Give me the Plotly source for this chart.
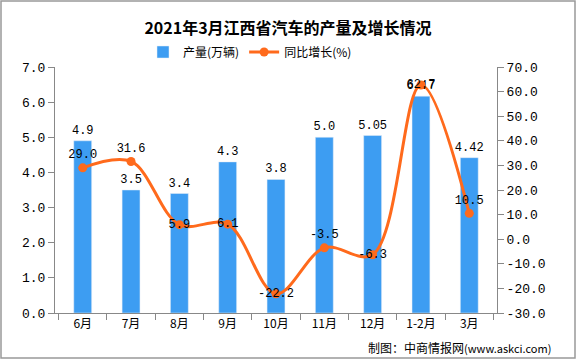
import plotly.graph_objects as go

categories = ["6月", "7月", "8月", "9月", "10月", "11月", "12月", "1-2月", "3月"]
output_vals = [4.9, 3.5, 3.4, 4.3, 3.8, 5.0, 5.05, 6.17, 4.42]
output_labels = ["4.9", "3.5", "3.4", "4.3", "3.8", "5.0", "5.05", "6.17", "4.42"]
growth_vals = [29.0, 31.6, 5.9, 6.1, -22.2, -3.5, -6.3, 62.7, 10.5]
growth_labels = ["29.0", "31.6", "5.9", "6.1", "-22.2", "-3.5", "-6.3", "62.7", "10.5"]
growth_label_pos = ["top center", "top center", "middle center", "middle center",
                    "middle center", "top center", "middle center", "middle center", "top center"]
left_ticks = [0, 1, 2, 3, 4, 5, 6, 7]
right_ticks = [-30, -20, -10, 0, 10, 20, 30, 40, 50, 60, 70]

mono = "Liberation Mono, monospace"
cjk = "Noto Sans CJK SC"

W, H = 576, 359
ML, MR, MT, MB = 55, 79, 67, 46
PW, PH = W - ML - MR, H - MT - MB

fig = go.Figure()
fig.add_trace(go.Bar(
    x=categories, y=output_vals, name="产量(万辆)",
    marker=dict(color="#3D9DF2"), width=0.37,
    text=output_labels, textposition="outside", cliponaxis=False, constraintext="none",
    textfont=dict(family=mono, size=12, color="#000"),
))
fig.add_trace(go.Scatter(
    x=categories, y=growth_vals, name="同比增长(%)", yaxis="y2",
    mode="lines+markers+text",
    line=dict(color="#FF6A1C", width=3, shape="spline", smoothing=1.0),
    marker=dict(color="#FF6A1C", size=9),
    text=growth_labels, textposition=growth_label_pos, cliponaxis=False,
    textfont=dict(family=mono, size=12, color="#000"),
))

fig.update_layout(
    width=W, height=H,
    margin=dict(l=ML, r=MR, t=MT, b=MB, autoexpand=False),
    paper_bgcolor="white", plot_bgcolor="white",
    title=dict(text="<b>2021年3月江西省汽车的产量及增长情况</b>", x=0.5, y=1 - 28 / H,
               xanchor="center", yanchor="middle",
               font=dict(family=cjk, size=16, color="#000")),
    legend=dict(orientation="h", x=143 / W, xanchor="left", xref="container",
                y=1 - 52 / H, yanchor="middle", yref="container",
                font=dict(family=cjk, size=12, color="#000"),
                bgcolor="rgba(0,0,0,0)"),
    showlegend=True,
    xaxis=dict(type="category", showline=True, linecolor="#888", linewidth=1,
               ticks="outside", tickcolor="#888", ticklen=6, tickson="boundaries",
               tickfont=dict(family=cjk, size=12, color="#000"), showgrid=False),
    yaxis=dict(range=[0, 7], tickvals=left_ticks, ticktext=[f"{v:.1f}" for v in left_ticks],
               showline=True, linecolor="#888", linewidth=1, ticks="outside",
               tickcolor="#888", ticklen=6, showgrid=False, zeroline=False,
               tickfont=dict(family=mono, size=13, color="#000")),
    yaxis2=dict(range=[-30, 70], tickvals=right_ticks, ticktext=[f"{v:.1f}" for v in right_ticks],
                overlaying="y", side="right", showline=True, linecolor="#888", linewidth=1,
                ticks="outside", tickcolor="#888", ticklen=6, showgrid=False, zeroline=False,
                tickfont=dict(family=mono, size=13, color="#000")),
    annotations=[dict(text="制图：中商情报网<span style='font-size:11px'>(www.askci.com)</span>",
                      xref="paper", yref="paper", x=(553 - ML) / PW, y=-(347 - (H - MB)) / PH,
                      xanchor="right", yanchor="middle", showarrow=False,
                      font=dict(family=cjk, size=12, color="#000"))],
)
fig.add_shape(type="rect", xref="paper", yref="paper",
              x0=-(ML - 1) / PW, y0=-(MB - 1) / PH, x1=1 + (MR - 1) / PW, y1=1 + (MT - 1) / PH,
              line=dict(color="#999", width=1.5))

fig.write_html("out.html", config={"displayModeBar": False},
               post_script="document.body.style.margin='0';document.body.style.overflow='hidden';")
